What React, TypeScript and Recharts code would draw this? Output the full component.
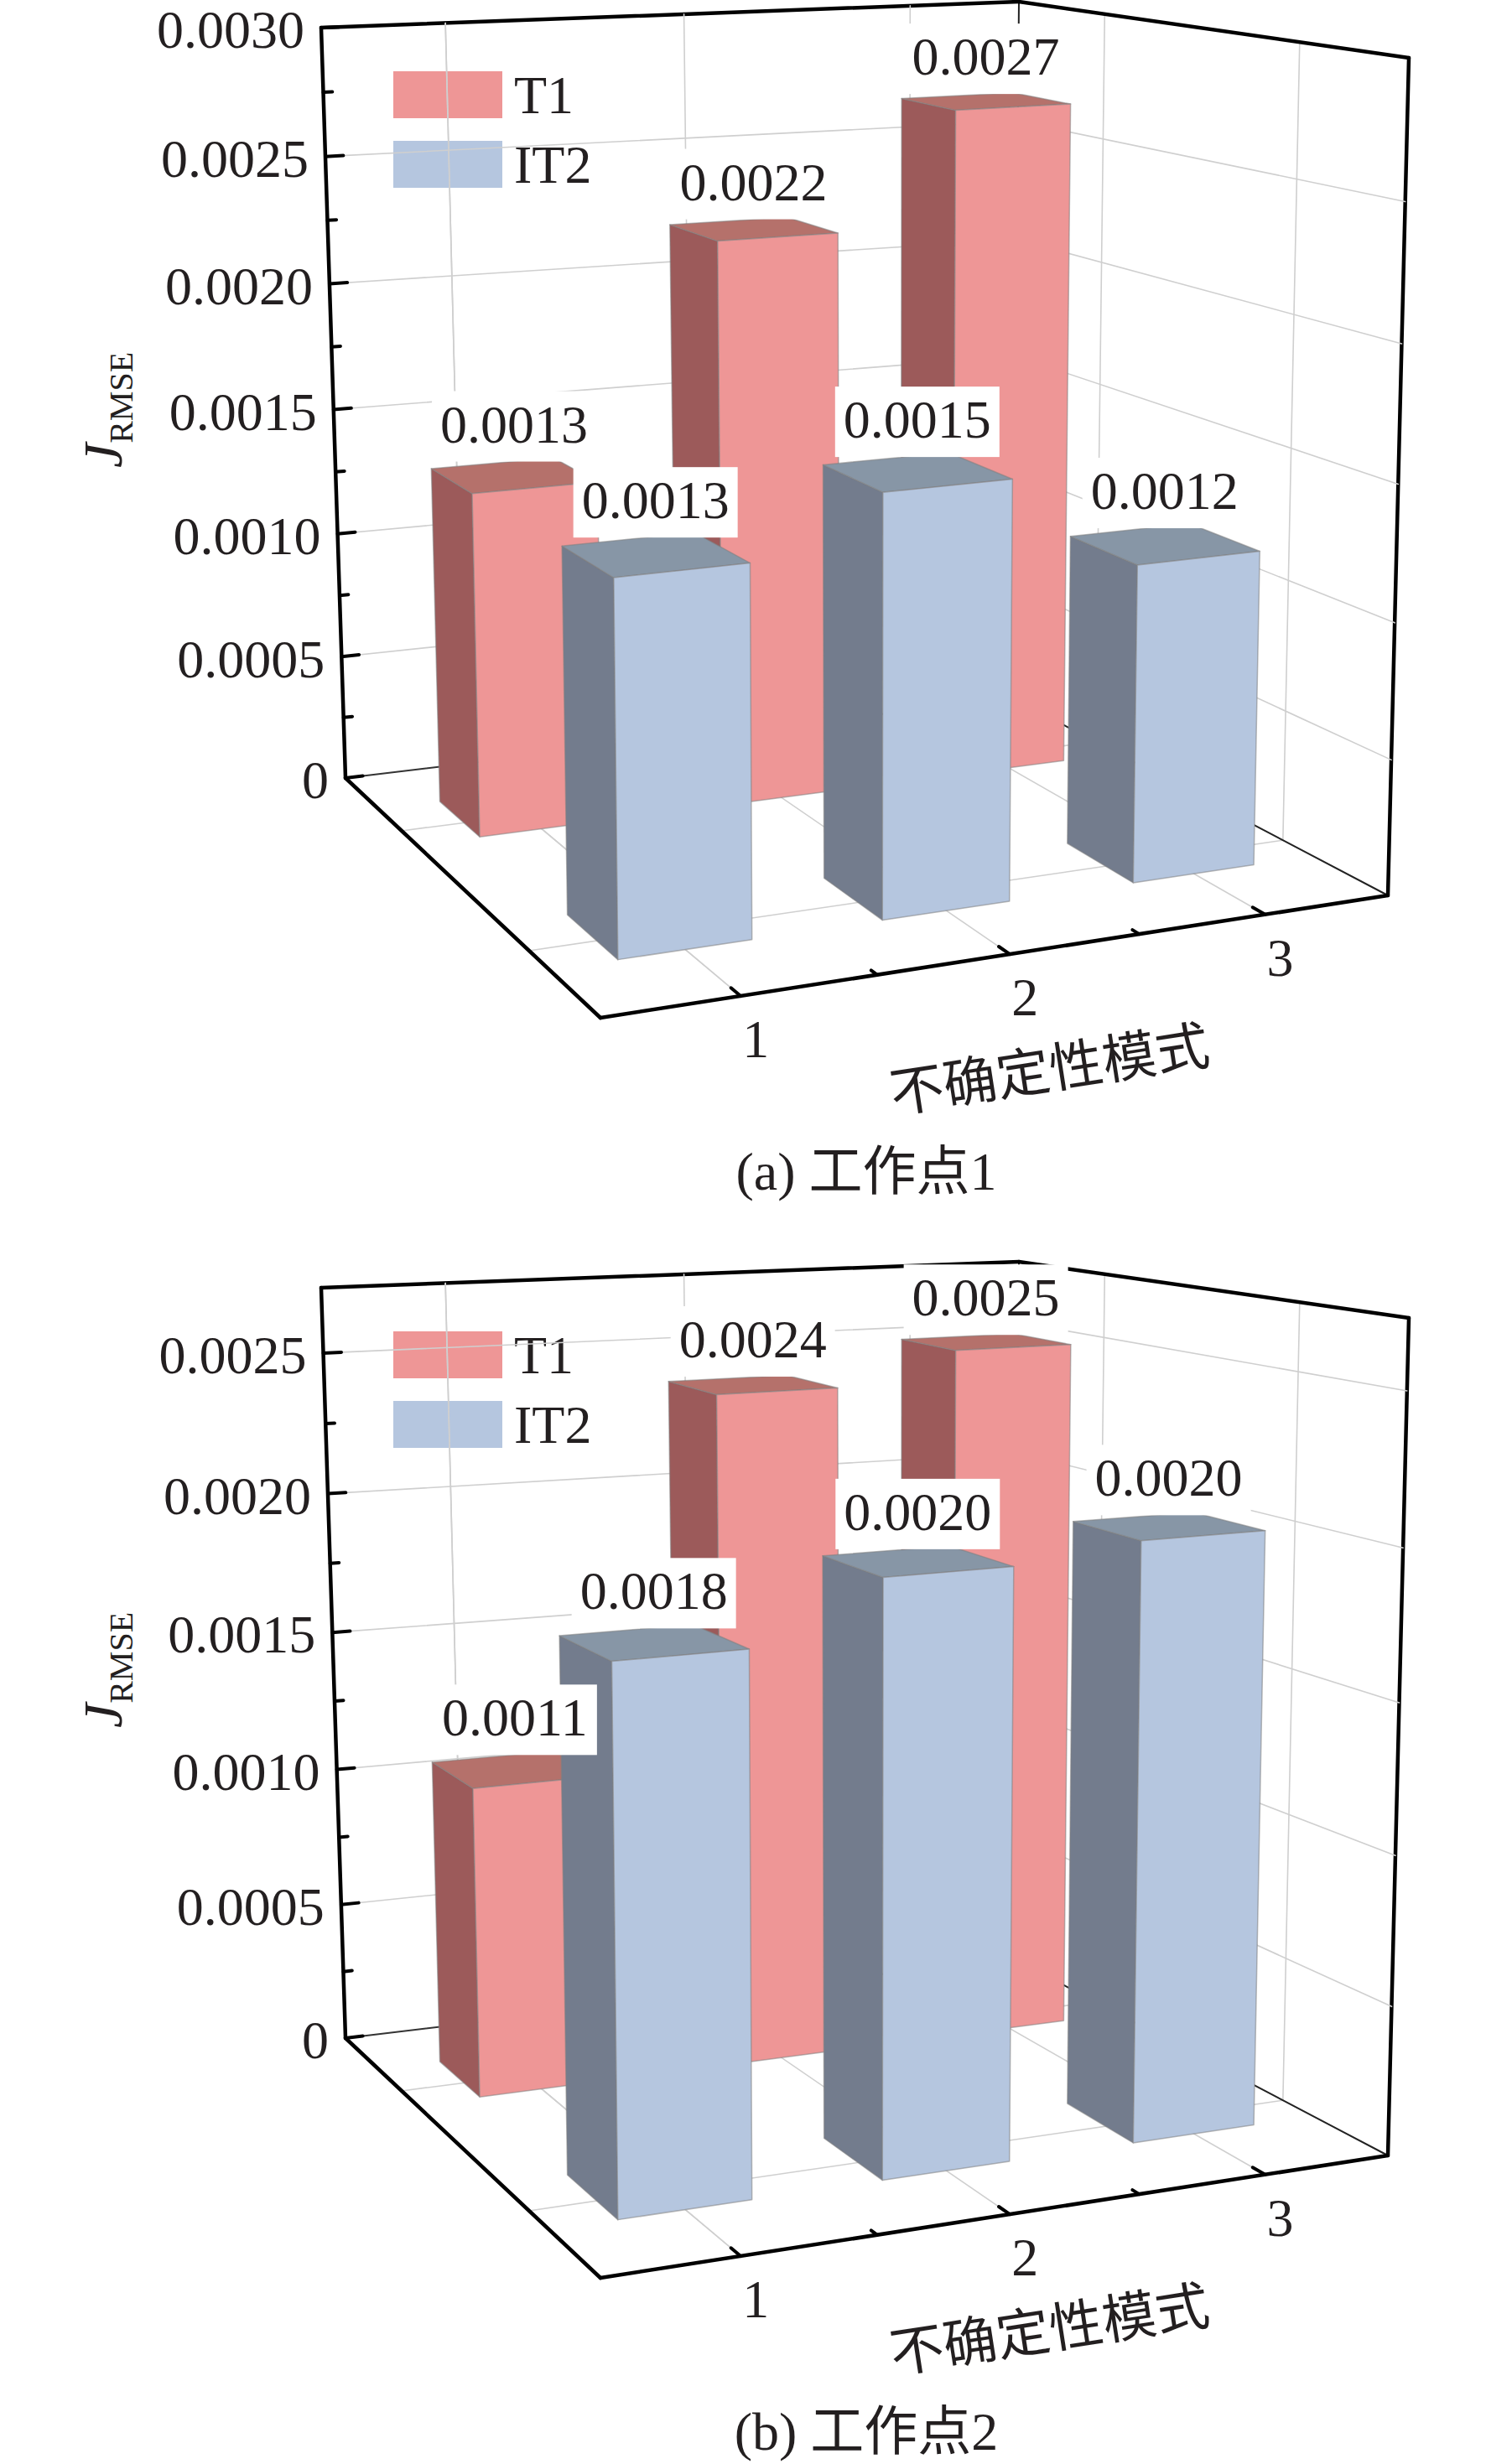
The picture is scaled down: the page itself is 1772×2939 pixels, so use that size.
import React from 'react';
import { ComposedChart, Bar, XAxis, YAxis, CartesianGrid } from 'recharts';

// uncertainty modes (categories)
const modes = ['1', '2', '3'];
const seriesNames = ['T1', 'IT2'];

// operating point 1 (bar heights, labels are rounded)
const t1Op1 = [0.00133, 0.00222, 0.00267];
const it2Op1 = [0.00134, 0.00154, 0.00118];
const ticksOp1 = [0, 0.0005, 0.001, 0.0015, 0.002, 0.0025, 0.003];
const maxOp1 = 0.003;

// operating point 2
const t1Op2 = [0.00109, 0.00239, 0.0025];
const it2Op2 = [0.00177, 0.00196, 0.00201];
const ticksOp2 = [0, 0.0005, 0.001, 0.0015, 0.002, 0.0025];
const maxOp2 = 0.00273;

const captions = ['(a) 工作点1', '(b) 工作点2'];
const xTitle = '不确定性模式';

// chart box and the flat plot rectangle recharts works in
const W = 1772;
const H = 1436;
const M = { top: 50, right: 100, bottom: 50, left: 100 };
const PW = W - M.left - M.right;
const PH = H - M.top - M.bottom;

// screen corners of the 3d box: back-left, back-right, front-right, front-left
const FLOOR = [[412, 928], [1208, 833], [1655, 1068], [716, 1214]];
const ROOF = [[383, 33], [1215, 2], [1680, 69], [705, 128]];
const U_PERSP = 0.083;
const W_PERSP = -0.035;

// depth slots of the two rows (0 = back wall, 1 = front edge)
const ROWS: Record<string, number[]> = { T1: [0.13, 0.28], IT2: [0.61, 0.8] };
const DEPTH_GRID = [0.22, 0.72];

const COLORS: Record<string, { front: string; side: string; top: string }> = {
  T1: { front: '#EE9696', side: '#9C5A5A', top: '#B5716B' },
  IT2: { front: '#B5C6DF', side: '#737C8D', top: '#8796A6' },
};

const SERIF = "'Liberation Serif', 'Times New Roman', serif";
const MIXED = "'Liberation Serif', 'Noto Sans CJK SC', serif";
const INK = '#231F20';
const GRID = '#CFCFCF';

// (u along categories, v depth, w height) -> screen
function P(u: number, v: number, w: number): [number, number] {
  const uu = (u * (1 + U_PERSP)) / (1 + U_PERSP * u);
  const ww = (w * (1 + W_PERSP)) / (1 + W_PERSP * w);
  const k = [(1 - uu) * (1 - v), uu * (1 - v), uu * v, (1 - uu) * v];
  let bx = 0, by = 0, tx = 0, ty = 0;
  for (let i = 0; i < 4; i++) {
    bx += k[i] * FLOOR[i][0];
    by += k[i] * FLOOR[i][1];
    tx += k[i] * ROOF[i][0];
    ty += k[i] * ROOF[i][1];
  }
  return [bx + ww * (tx - bx), by + ww * (ty - by)];
}

const pts = (list: [number, number][]) => list.map((p) => `${p[0]},${p[1]}`).join(' ');

const seg = (a: [number, number], b: [number, number], stroke: string, sw: number, key?: string) => (
  <line key={key} x1={a[0]} y1={a[1]} x2={b[0]} y2={b[1]} stroke={stroke} strokeWidth={sw} strokeLinecap="round" />
);

function withMinor(majors: number[], max: number) {
  const step = majors[1] - majors[0];
  const out: number[] = [];
  majors.forEach((m) => {
    out.push(m);
    if (m + step / 2 <= max + 1e-12) out.push(m + step / 2);
  });
  return out;
}

const fmt = (v: number) => (v === 0 ? '0' : v.toFixed(4));

// box geometry of one bar from the props recharts hands to a shape
function boxOf(key: string, props: any) {
  const { x, width, height } = props;
  const u0 = (x - M.left) / PW;
  const u1 = (x + width - M.left) / PW;
  const w = height / PH;
  const [v0, v1] = ROWS[key];
  return { u0, u1, w, v0, v1 };
}

function valueLabel(key: string, props: any) {
  const { u0, u1, w, v0, v1 } = boxOf(key, props);
  const uc = (u0 + u1) / 2;
  const lx = P(uc, (v0 + v1) / 2, w)[0];
  const ly = P(uc, v0, w)[1];
  return (
    <g>
      <rect x={lx - 98} y={ly - 86} width={196} height={84} fill="#FFFFFF" />
      <text x={lx} y={ly - 25} textAnchor="middle" fontSize={64} fontFamily={SERIF} fill={INK}>
        {fmt(props.payload[key])}
      </text>
    </g>
  );
}

function makeBox(key: string, withLabel: boolean) {
  return (props: any) => {
    const { u0, u1, w, v0, v1 } = boxOf(key, props);
    const c = COLORS[key];
    const side: [number, number][] = [P(u0, v0, 0), P(u0, v1, 0), P(u0, v1, w), P(u0, v0, w)];
    const top: [number, number][] = [P(u0, v0, w), P(u1, v0, w), P(u1, v1, w), P(u0, v1, w)];
    const front: [number, number][] = [P(u0, v1, 0), P(u1, v1, 0), P(u1, v1, w), P(u0, v1, w)];
    const edge = { stroke: '#7F7F7F', strokeOpacity: 0.55, strokeWidth: 1.5, strokeLinejoin: 'round' as const };
    return (
      <g>
        <polygon points={pts(side)} fill={c.side} {...edge} />
        <polygon points={pts(top)} fill={c.top} {...edge} />
        <polygon points={pts(front)} fill={c.front} {...edge} />
        {withLabel && valueLabel(key, props)}
      </g>
    );
  };
}

const makeLabelOnly = (key: string) => (props: any) => valueLabel(key, props);

function makeYTick(majors: number[]) {
  return (props: any) => {
    const { y, payload } = props;
    const w = (M.top + PH - y) / PH;
    const major = majors.some((m) => Math.abs(m - payload.value) < 1e-9);
    const a = P(0, 0, w);
    const b = P(major ? 0.024 : 0.012, 0, w);
    return (
      <g>
        {seg(a, b, '#000', 4)}
        {major && (
          <text x={a[0] - 20} y={a[1]} dy="0.38em" textAnchor="end" fontSize={64} fontFamily={SERIF} fill={INK}>
            {fmt(payload.value)}
          </text>
        )}
      </g>
    );
  };
}

const XTick = (props: any) => {
  const { x, payload } = props;
  const u = (x - M.left) / PW;
  const half = 1 / (2 * modes.length);
  const f = P(u, 1, 0);
  const showMinor = u + half < 1 - 1e-6;
  return (
    <g>
      {seg(f, P(u, 0.965, 0), '#000', 4)}
      {showMinor && seg(P(u + half, 1, 0), P(u + half, 0.98, 0), '#000', 4)}
      <text x={f[0] + 18} y={f[1] + 73} textAnchor="middle" fontSize={64} fontFamily={SERIF} fill={INK}>
        {payload.value}
      </text>
    </g>
  );
};

function makeGridH(majors: number[], max: number) {
  return (props: any) => {
    const w = (M.top + PH - props.y1) / PH;
    const value = w * max;
    const major = majors.some((m) => Math.abs(m - value) < max * 0.002);
    if (!major || w < 0.002 || w > 0.998) return <g />;
    return (
      <g>
        {seg(P(0, 0, w), P(1, 0, w), GRID, 1.6)}
        {seg(P(1, 0, w), P(1, 1, w), GRID, 1.6)}
      </g>
    );
  };
}

const gridV = (props: any) => {
  const raw = (props.x1 - M.left) / PW;
  const n = modes.length;
  if (raw >= 1 - 1e-6) return <g />;
  const u = (Math.floor(raw * n + 1e-6) + 0.5) / n;
  return (
    <g>
      {seg(P(u, 0, 0), P(u, 0, 1), GRID, 1.6)}
      {seg(P(u, 0, 0), P(u, 1, 0), GRID, 1.6)}
    </g>
  );
};

function Backdrop({ caption }: { caption: string }) {
  const [blb, brb, frb, flb] = FLOOR as [number, number][];
  const [blt, brt, frt] = ROOF as [number, number][];
  const angle = (Math.atan2(frb[1] - flb[1], frb[0] - flb[0]) * 180) / Math.PI;
  return (
    <svg width={W} height={1503} style={{ position: 'absolute', left: 0, top: 0, overflow: 'visible' }}>
      {DEPTH_GRID.map((v, i) => (
        <g key={i}>
          {seg(P(0, v, 0), P(1, v, 0), GRID, 1.6)}
          {seg(P(1, v, 0), P(1, v, 1), GRID, 1.6)}
        </g>
      ))}
      {seg(brt, brb, '#222', 2)}
      {seg(blb, brb, '#333', 2)}
      {seg(brb, frb, '#222', 2)}
      {seg(blb, blt, '#000', 4.5)}
      {seg(blt, brt, '#000', 4.5)}
      {seg(brt, frt, '#000', 4.5)}
      {seg(frt, frb, '#000', 4.5)}
      {seg(frb, flb, '#000', 4.5)}
      {seg(flb, blb, '#000', 4.5)}

      {seriesNames.map((s, i) => (
        <g key={s}>
          <rect x={469} y={85 + i * 83} width={130} height={56} fill={COLORS[s].front} />
          <text x={613} y={113 + i * 83} dy="0.34em" fontSize={64} fontFamily={SERIF} fill={INK}>
            {s}
          </text>
        </g>
      ))}

      <text transform="translate(145,489) rotate(-90)" textAnchor="middle" fontFamily={SERIF} fill={INK}>
        <tspan fontSize={66} fontStyle="italic">J</tspan>
        <tspan fontSize={40} dy={13}>RMSE</tspan>
      </text>

      <text
        transform={`translate(1255,1298) rotate(${angle})`}
        textAnchor="middle"
        fontSize={64}
        fontFamily={MIXED}
        fill={INK}
      >
        {xTitle}
      </text>

      <text x={1033} y={1419} textAnchor="middle" fontSize={64} fontFamily={MIXED} fill={INK}>
        {caption}
      </text>
    </svg>
  );
}

function Panel({ top, t1, it2, max, majors, caption }: any) {
  const rows = modes.map((m, i) => ({ mode: m, T1: t1[i], IT2: it2[i] }));
  const ticks = withMinor(majors, max);
  return (
    <div style={{ position: 'absolute', left: 0, top, width: W, height: H }}>
      <Backdrop caption={caption} />
      <div style={{ position: 'absolute', left: 0, top: 0 }}>
        <ComposedChart
          width={W}
          height={H}
          data={rows}
          margin={{ top: M.top, right: M.right, bottom: M.bottom - 1, left: M.left - 1 }}
          barCategoryGap="25%"
        >
          <CartesianGrid xAxisId="front" horizontal={makeGridH(majors, max)} vertical={gridV} />
          <XAxis xAxisId="back" dataKey="mode" hide />
          <XAxis xAxisId="labels" dataKey="mode" hide />
          <XAxis
            xAxisId="front"
            dataKey="mode"
            height={1}
            axisLine={false}
            tickLine={false}
            interval={0}
            tick={XTick}
          />
          <YAxis
            domain={[0, max]}
            ticks={ticks}
            width={1}
            axisLine={false}
            tickLine={false}
            interval={0}
            tick={makeYTick(majors)}
          />
          <Bar xAxisId="back" dataKey="T1" shape={makeBox('T1', false)} isAnimationActive={false} />
          <Bar xAxisId="front" dataKey="IT2" shape={makeBox('IT2', true)} isAnimationActive={false} />
          <Bar xAxisId="labels" dataKey="T1" shape={makeLabelOnly('T1')} isAnimationActive={false} />
        </ComposedChart>
      </div>
    </div>
  );
}

export default function App() {
  return (
    <div style={{ position: 'absolute', left: 0, top: 0, width: W, height: 2939, background: '#fff', overflow: 'hidden' }}>
      <Panel top={0} t1={t1Op1} it2={it2Op1} max={maxOp1} majors={ticksOp1} caption={captions[0]} />
      <Panel top={1503} t1={t1Op2} it2={it2Op2} max={maxOp2} majors={ticksOp2} caption={captions[1]} />
    </div>
  );
}
